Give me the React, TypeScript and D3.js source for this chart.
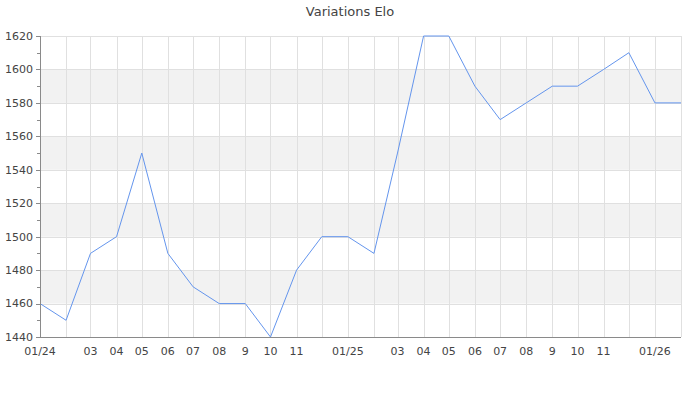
import React from "react";
import * as d3 from "d3";

const months: string[] = [
  "2024-01", "2024-02", "2024-03", "2024-04", "2024-05", "2024-06", "2024-07", "2024-08", "2024-09", "2024-10", "2024-11", "2024-12",
  "2025-01", "2025-02", "2025-03", "2025-04", "2025-05", "2025-06", "2025-07", "2025-08", "2025-09", "2025-10", "2025-11", "2025-12",
  "2026-01", "2026-02",
];
const elo: number[] = [
  1460, 1450, 1490, 1500, 1550, 1490, 1470, 1460, 1460, 1440, 1480, 1500,
  1500, 1490, 1550, 1620, 1620, 1590, 1570, 1580, 1590, 1590, 1600, 1610,
  1580, 1580,
];
const tickMonths: string[] = [
  "2024-01", "2024-03", "2024-04", "2024-05", "2024-06", "2024-07", "2024-08", "2024-09", "2024-10", "2024-11",
  "2025-01", "2025-03", "2025-04", "2025-05", "2025-06", "2025-07", "2025-08", "2025-09", "2025-10", "2025-11",
  "2026-01",
];
const tickLabels: string[] = [
  "01/24", "03", "04", "05", "06", "07", "08", "9", "10", "11",
  "01/25", "03", "04", "05", "06", "07", "08", "9", "10", "11",
  "01/26",
];
const yTicks: number[] = [1440, 1460, 1480, 1500, 1520, 1540, 1560, 1580, 1600, 1620];
const title = "Variations Elo";

const parse = (s: string) => {
  const [y, m] = s.split("-").map(Number);
  return new Date(Date.UTC(y, m - 1, 1));
};

export default function App() {
  const W = 700, H = 400;
  const left = 40, right = 681, top = 36, bottom = 337;
  const x = d3.scaleUtc().domain([parse(months[0]), parse(months[months.length - 1])]).range([left, right]);
  const y = d3.scaleLinear().domain([1440, 1620]).range([bottom, top]);
  const data = months.map((m, i) => ({ d: parse(m), v: elo[i] }));
  const line = d3.line<{ d: Date; v: number }>().x((p) => x(p.d)).y((p) => y(p.v));
  const minor = d3.range(1450, 1620, 20);
  const font = "'DejaVu Sans', sans-serif";
  const axisCol = "#8a8a8a";
  return (
    <svg width={W} height={H} style={{ position: "absolute", left: 0, top: 0 }} fontFamily={font}>
      <rect x={0} y={0} width={W} height={H} fill="#fff" />
      <text x={W / 2} y={16} textAnchor="middle" fontSize={13} fill="#444">{title}</text>
      {yTicks.slice(0, -1).map((t, i) =>
        i % 2 === 1 ? (
          <rect key={"b" + t} x={left} y={y(t + 20)} width={right - left} height={y(t) - y(t + 20)} fill="#f2f2f2" />
        ) : null
      )}
      {yTicks.map((t) => (
        <line key={"hg" + t} x1={left} x2={right} y1={Math.round(y(t)) + 0.5} y2={Math.round(y(t)) + 0.5} stroke="#e0e0e0" />
      ))}
      {months.map((m) => (
        <line key={"vg" + m} x1={Math.round(x(parse(m))) + 0.5} x2={Math.round(x(parse(m))) + 0.5} y1={top} y2={bottom} stroke="#e0e0e0" />
      ))}
      <path d={line(data) || ""} fill="none" stroke="#6495ed" strokeWidth={1} />
      <line x1={left + 0.5} x2={left + 0.5} y1={top} y2={bottom} stroke={axisCol} />
      <line x1={left} x2={right} y1={bottom + 0.5} y2={bottom + 0.5} stroke={axisCol} />
      {yTicks.map((t) => (
        <g key={"yt" + t}>
          <line x1={left - 4} x2={left} y1={Math.round(y(t)) + 0.5} y2={Math.round(y(t)) + 0.5} stroke={axisCol} />
          <text x={33} y={y(t)} dy="0.35em" textAnchor="end" fontSize={11} fill="#444">{t}</text>
        </g>
      ))}
      {minor.map((t) => (
        <line key={"ym" + t} x1={left - 3} x2={left} y1={Math.round(y(t)) + 0.5} y2={Math.round(y(t)) + 0.5} stroke={axisCol} />
      ))}
      {tickMonths.map((m, i) => (
        <text key={"xt" + m} x={x(parse(m))} y={355} textAnchor="middle" fontSize={11} fill="#444">{tickLabels[i]}</text>
      ))}
    </svg>
  );
}
